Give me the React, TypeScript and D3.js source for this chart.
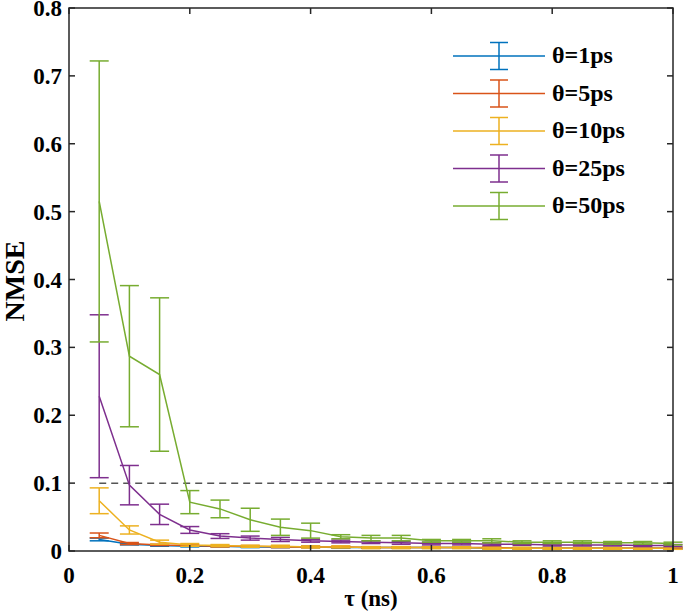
import React from "react";
import * as d3 from "d3";

const taus = [0.05, 0.1, 0.15, 0.2, 0.25, 0.3, 0.35, 0.4, 0.45, 0.5, 0.55, 0.6, 0.65, 0.7, 0.75, 0.8, 0.85, 0.9, 0.95, 1.0];

const seriesNames = ["θ=1ps", "θ=5ps", "θ=10ps", "θ=25ps", "θ=50ps"];
const seriesColors = ["#0072BD", "#D95319", "#EDB120", "#7E2F8E", "#77AC30"];

const mean1 = [0.017, 0.010, 0.008, 0.007, 0.007, 0.006, 0.006, 0.006, 0.005, 0.005, 0.005, 0.005, 0.005, 0.004, 0.004, 0.004, 0.004, 0.004, 0.004, 0.004];
const err1 = [0.002, 0.001, 0.001, 0.001, 0.001, 0.001, 0.001, 0.001, 0.001, 0.001, 0.001, 0.001, 0.001, 0.001, 0.001, 0.001, 0.001, 0.001, 0.001, 0.001];
const mean5 = [0.023, 0.011, 0.009, 0.008, 0.007, 0.007, 0.006, 0.006, 0.006, 0.005, 0.005, 0.005, 0.005, 0.005, 0.004, 0.004, 0.004, 0.004, 0.004, 0.004];
const err5 = [0.0035, 0.0015, 0.001, 0.001, 0.001, 0.001, 0.001, 0.001, 0.001, 0.001, 0.001, 0.001, 0.001, 0.001, 0.001, 0.001, 0.001, 0.001, 0.001, 0.001];
const mean10 = [0.074, 0.031, 0.013, 0.009, 0.008, 0.007, 0.007, 0.006, 0.006, 0.005, 0.005, 0.005, 0.005, 0.004, 0.004, 0.004, 0.004, 0.004, 0.004, 0.004];
const err10 = [0.019, 0.006, 0.003, 0.002, 0.0015, 0.0015, 0.0015, 0.0015, 0.0015, 0.0015, 0.0015, 0.0015, 0.0015, 0.0015, 0.0015, 0.0015, 0.0015, 0.0015, 0.0015, 0.0015];
const mean25 = [0.228, 0.097, 0.054, 0.031, 0.022, 0.019, 0.017, 0.015, 0.014, 0.013, 0.012, 0.011, 0.011, 0.010, 0.010, 0.009, 0.009, 0.009, 0.008, 0.008];
const err25 = [0.120, 0.029, 0.015, 0.005, 0.0035, 0.003, 0.003, 0.002, 0.002, 0.002, 0.002, 0.002, 0.002, 0.002, 0.0015, 0.0015, 0.0015, 0.0015, 0.0015, 0.0015];
const mean50 = [0.515, 0.287, 0.260, 0.072, 0.062, 0.046, 0.035, 0.030, 0.021, 0.019, 0.019, 0.015, 0.015, 0.015, 0.013, 0.013, 0.013, 0.012, 0.012, 0.011];
const err50 = [0.207, 0.104, 0.113, 0.017, 0.013, 0.017, 0.012, 0.011, 0.003, 0.004, 0.004, 0.002, 0.002, 0.003, 0.002, 0.002, 0.002, 0.002, 0.002, 0.002];

const seriesMeans = [mean1, mean5, mean10, mean25, mean50];
const seriesErrs = [err1, err5, err10, err25, err50];

const xTicks = [0, 0.2, 0.4, 0.6, 0.8, 1];
const yTicks = [0, 0.1, 0.2, 0.3, 0.4, 0.5, 0.6, 0.7, 0.8];
const threshold = 0.1;

const W = 685;
const H = 613;
const left = 69;
const right = 673;
const top = 8;
const bottom = 551;
const FONT = "'Liberation Serif', 'Times New Roman', serif";

export default function App() {
  const x = d3.scaleLinear().domain([0, 1]).range([left, right]);
  const y = d3.scaleLinear().domain([0, 0.8]).range([bottom, top]);
  const line = d3
    .line<number>()
    .x((_, i) => x(taus[i]))
    .y((d) => y(d));
  const cap = 9.5;
  const axisColor = "#262626";

  return (
    <svg width={W} height={H} style={{ position: "absolute", left: 0, top: 0, background: "#fff" }} fontFamily={FONT}>
      <rect x={0} y={0} width={W} height={H} fill="#fff" />
      {/* threshold */}
      <line x1={x(0.05)} x2={x(1)} y1={y(threshold)} y2={y(threshold)} stroke="#555" strokeWidth={1.5} strokeDasharray="7,5" />
      {seriesMeans.map((m, si) => (
        <g key={si} stroke={seriesColors[si]} strokeWidth={1.5} fill="none">
          <path d={line(m) || ""} />
          {m.map((v, i) => {
            const e = seriesErrs[si][i];
            const cx = x(taus[i]);
            return (
              <g key={i}>
                <line x1={cx} x2={cx} y1={y(v - e)} y2={y(v + e)} />
                <line x1={cx - cap} x2={cx + cap} y1={y(v - e)} y2={y(v - e)} />
                <line x1={cx - cap} x2={cx + cap} y1={y(v + e)} y2={y(v + e)} />
              </g>
            );
          })}
        </g>
      ))}
      {/* axes box */}
      <rect x={left} y={top} width={right - left} height={bottom - top} fill="none" stroke={axisColor} strokeWidth={1.5} />
      {xTicks.map((t) => (
        <g key={"x" + t}>
          <line x1={x(t)} x2={x(t)} y1={bottom} y2={bottom - 6} stroke={axisColor} strokeWidth={1.5} />
          <line x1={x(t)} x2={x(t)} y1={top} y2={top + 6} stroke={axisColor} strokeWidth={1.5} />
          <text x={x(t)} y={583} textAnchor="middle" fontSize={23} fontWeight="bold" fill="#000">
            {d3.format("")(t)}
          </text>
        </g>
      ))}
      {yTicks.map((t) => (
        <g key={"y" + t}>
          <line x1={left} x2={left + 6} y1={y(t)} y2={y(t)} stroke={axisColor} strokeWidth={1.5} />
          <line x1={right} x2={right - 6} y1={y(t)} y2={y(t)} stroke={axisColor} strokeWidth={1.5} />
          <text x={62} y={y(t) + 8} textAnchor="end" fontSize={23} fontWeight="bold" fill="#000">
            {d3.format("")(t)}
          </text>
        </g>
      ))}
      <text x={371} y={606} textAnchor="middle" fontSize={23} fontWeight="bold" fill="#000">
        τ (ns)
      </text>
      <text transform={`translate(24, 281) rotate(-90)`} textAnchor="middle" fontSize={28} fontWeight="bold" fill="#000">
        NMSE
      </text>
      {/* legend */}
      {seriesNames.map((name, i) => {
        const ly = 56 + i * 37.5;
        return (
          <g key={name}>
            <g stroke={seriesColors[i]} strokeWidth={1.5}>
              <line x1={453} x2={545} y1={ly} y2={ly} />
              <line x1={499} x2={499} y1={ly - 13.5} y2={ly + 13.5} />
              <line x1={499 - 9} x2={499 + 9} y1={ly - 13.5} y2={ly - 13.5} />
              <line x1={499 - 9} x2={499 + 9} y1={ly + 13.5} y2={ly + 13.5} />
            </g>
            <text x={552} y={ly + 7} fontSize={24} fontWeight="bold" fill="#000">
              {name}
            </text>
          </g>
        );
      })}
    </svg>
  );
}
